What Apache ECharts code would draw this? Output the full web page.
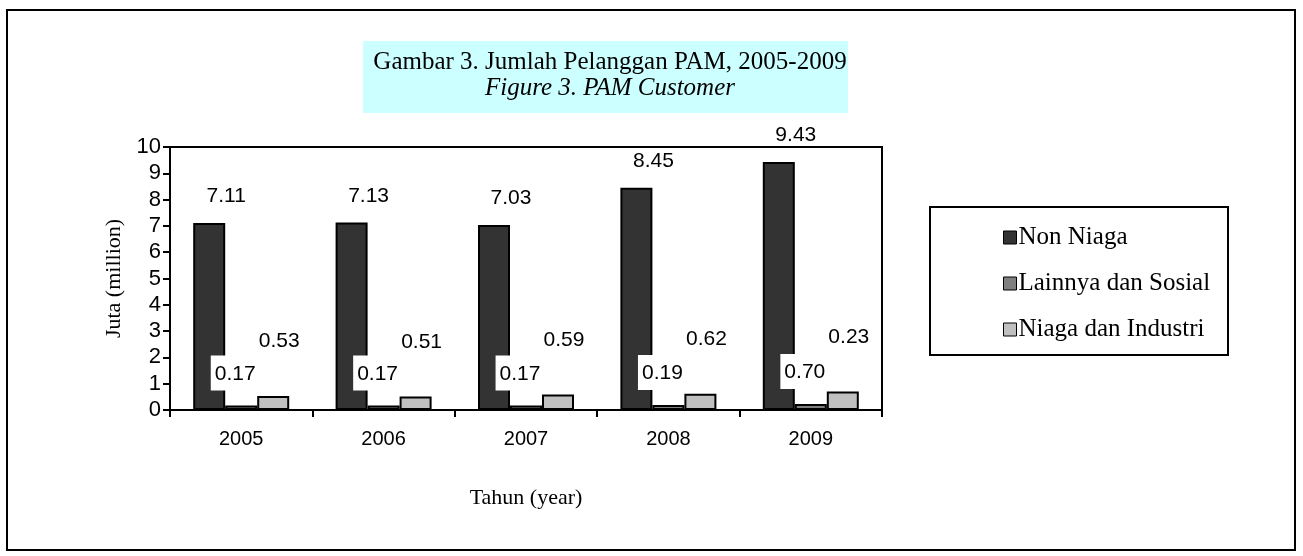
<!DOCTYPE html>
<html>

<head>
    <meta charset="utf-8">
    <title>Jumlah Pelanggan PAM, 2005-2009</title>
    <script src="https://cdn.jsdelivr.net/npm/echarts@6/dist/echarts.min.js"></script>
    <style>
        html, body { margin: 0; padding: 0; background: #fff; }
        .chart { width: 1303px; height: 556px; }
    </style>
</head>

<body>
    <div id="main" class="chart"></div>

    <script type="text/javascript">

        var years = ['2005', '2006', '2007', '2008', '2009'];
        var yTicks = [0, 1, 2, 3, 4, 5, 6, 7, 8, 9, 10];

        var nonNiaga = [7.11, 7.13, 7.03, 8.45, 9.43];
        var lainnya = [0.17, 0.17, 0.17, 0.19, 0.23];
        var niagaIndustri = [0.53, 0.51, 0.59, 0.62, 0.70];

        // labels as printed on the original (2009 ones are swapped there)
        var nonNiagaText = ['7.11', '7.13', '7.03', '8.45', '9.43'];
        var lainnyaText = ['0.17', '0.17', '0.17', '0.19', '0.70'];
        var niagaText = ['0.53', '0.51', '0.59', '0.62', '0.23'];

        var serif = '"Liberation Serif", "DejaVu Serif", serif';
        var sans = '"Liberation Sans", Arial, sans-serif';

        var myChart = echarts.init(document.getElementById('main'));

        function barLabel(texts, offset, extra) {
            var l = {
                show: true,
                position: 'top',
                offset: offset,
                fontFamily: sans,
                fontSize: 21,
                color: '#000',
                formatter: function (p) { return texts[p.dataIndex]; }
            };
            for (var k in extra) l[k] = extra[k];
            return l;
        }

        var option = {
            backgroundColor: '#fff',
            animation: false,
            title: {
                text: 'Gambar 3. Jumlah Pelanggan PAM, 2005-2009',
                subtext: 'Figure 3. PAM Customer',
                left: 605,
                top: 45,
                textAlign: 'center',
                itemGap: 1,
                textStyle: { fontFamily: serif, fontSize: 25, fontWeight: 'normal', color: '#000' },
                subtextStyle: { fontFamily: serif, fontSize: 25, fontStyle: 'italic', color: '#000' }
            },
            graphic: [
                {
                    type: 'rect', z: -10,
                    shape: { x: 7, y: 10, width: 1288, height: 540 },
                    style: { fill: '#fff', stroke: '#000', lineWidth: 2 }
                },
                {
                    type: 'rect', z: -5,
                    shape: { x: 363, y: 41, width: 485, height: 72 },
                    style: { fill: '#ccffff' }
                },
                {
                    type: 'rect', z: -5,
                    shape: { x: 930, y: 207, width: 298, height: 148 },
                    style: { fill: '#fff', stroke: '#000', lineWidth: 2 }
                }
            ],
            legend: {
                orient: 'vertical',
                left: 998,
                top: 220,
                itemGap: 21,
                itemWidth: 13,
                itemHeight: 13,
                icon: 'rect',
                itemStyle: { borderColor: '#000', borderWidth: 1 },
                textStyle: { fontFamily: serif, fontSize: 25, lineHeight: 25, color: '#000', padding: [0, 0, 0, -3] },
                data: ['Non Niaga', 'Lainnya dan Sosial', 'Niaga dan Industri']
            },
            grid: {
                left: 170,
                top: 147,
                width: 712,
                height: 263,
                show: true,
                borderColor: '#000',
                borderWidth: 2,
                backgroundColor: 'transparent'
            },
            xAxis: {
                type: 'category',
                data: years,
                name: 'Tahun (year)',
                nameLocation: 'middle',
                nameGap: 77,
                nameTextStyle: { fontFamily: serif, fontSize: 22, color: '#000' },
                axisLine: { lineStyle: { color: '#000', width: 2 } },
                axisTick: { show: true, length: 7, lineStyle: { color: '#000', width: 2 } },
                axisLabel: { fontFamily: sans, fontSize: 20, color: '#000', margin: 19 }
            },
            yAxis: {
                type: 'value',
                min: yTicks[0],
                max: yTicks[yTicks.length - 1],
                interval: 1,
                name: 'Juta (million)',
                nameLocation: 'middle',
                nameRotate: 90,
                nameGap: 40,
                nameTextStyle: { fontFamily: serif, fontSize: 22, color: '#000' },
                splitLine: { show: false },
                axisLine: { show: true, lineStyle: { color: '#000', width: 2 } },
                axisTick: { show: true, length: 7, lineStyle: { color: '#000', width: 2 } },
                axisLabel: { fontFamily: sans, fontSize: 22, color: '#000', margin: 9 }
            },
            series: [
                {
                    name: 'Non Niaga',
                    type: 'bar',
                    barWidth: 32,
                    barGap: '0%',
                    itemStyle: { color: '#333333', borderColor: '#000', borderWidth: 2 },
                    label: barLabel(nonNiagaText, [17, -11], {}),
                    data: nonNiaga
                },
                {
                    name: 'Lainnya dan Sosial',
                    type: 'bar',
                    barWidth: 32,
                    itemStyle: { color: '#808080', borderColor: '#000', borderWidth: 2 },
                    label: barLabel(lainnyaText, [-7, -10], {
                        backgroundColor: '#fff',
                        padding: [8, 2, 6, 4]
                    }),
                    data: lainnya
                },
                {
                    name: 'Niaga dan Industri',
                    type: 'bar',
                    barWidth: 32,
                    itemStyle: { color: '#c0c0c0', borderColor: '#000', borderWidth: 2 },
                    label: barLabel(niagaText, [6, -39], {}),
                    data: niagaIndustri
                }
            ]
        };

        myChart.setOption(option);

    </script>
</body>

</html>
